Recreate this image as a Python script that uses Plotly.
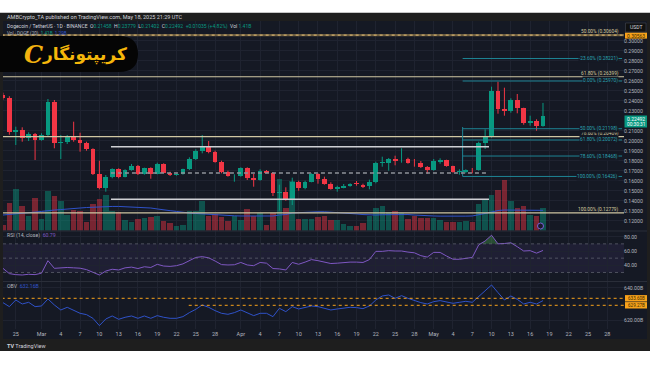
import plotly.graph_objects as go
import pandas as pd

W, H = 650, 365
def fx(x): return x / W
def fy(y): return 1 - y / H

# ---------------- data ----------------
start_date = "2025-02-23"
opens = [0.2457, 0.2424, 0.2090, 0.2107, 0.2024, 0.2064, 0.2007, 0.2057, 0.2390, 0.1980,
         0.1987, 0.2034, 0.2007, 0.1974, 0.1914, 0.1667, 0.1524, 0.1634, 0.1714, 0.1640,
         0.1707, 0.1747, 0.1667, 0.1724, 0.1667, 0.1767, 0.1680, 0.1657, 0.1664, 0.1714,
         0.1817, 0.1897, 0.1940, 0.1890, 0.1790, 0.1684, 0.1646, 0.1652, 0.1724, 0.1624,
         0.1607, 0.1700, 0.1680, 0.1474, 0.1484, 0.1414, 0.1590, 0.1524, 0.1590, 0.1664,
         0.1614, 0.1570, 0.1520, 0.1530, 0.1547, 0.1577, 0.1560, 0.1544, 0.1584, 0.1780,
         0.1774, 0.1817, 0.1807, 0.1814, 0.1790, 0.1780, 0.1737, 0.1707, 0.1790, 0.1807,
         0.1744, 0.1690, 0.1690, 0.1710, 0.1707, 0.1974, 0.2047, 0.2500, 0.2314, 0.2300,
         0.2407, 0.2324, 0.2180, 0.2200, 0.21458]
highs = [0.2480, 0.2445, 0.2140, 0.2134, 0.2084, 0.2077, 0.2074, 0.2417, 0.2407, 0.2057,
         0.2057, 0.2190, 0.2080, 0.1990, 0.1924, 0.1800, 0.1657, 0.1724, 0.1724, 0.1714,
         0.1767, 0.1757, 0.1730, 0.1734, 0.1780, 0.1774, 0.1690, 0.1674, 0.1720, 0.1834,
         0.1914, 0.2057, 0.1997, 0.1900, 0.1800, 0.1700, 0.1664, 0.1734, 0.1734, 0.1667,
         0.1714, 0.1707, 0.1687, 0.1560, 0.1534, 0.1630, 0.1600, 0.1600, 0.1674, 0.1674,
         0.1640, 0.1584, 0.1550, 0.1567, 0.1574, 0.1597, 0.1570, 0.1610, 0.1790, 0.1840,
         0.1827, 0.1850, 0.1924, 0.1830, 0.1817, 0.1797, 0.1747, 0.1817, 0.1824, 0.1810,
         0.1750, 0.1714, 0.1714, 0.1727, 0.1990, 0.2114, 0.2540, 0.2590, 0.2530, 0.2424,
         0.2467, 0.2330, 0.2250, 0.2214, 0.23779]
lows = [0.2410, 0.2060, 0.1957, 0.1990, 0.1997, 0.1807, 0.2000, 0.2047, 0.1924, 0.1817,
        0.1967, 0.1990, 0.1890, 0.1900, 0.1657, 0.1514, 0.1490, 0.1624, 0.1624, 0.1634,
        0.1700, 0.1657, 0.1660, 0.1620, 0.1664, 0.1674, 0.1647, 0.1650, 0.1660, 0.1707,
        0.1807, 0.1874, 0.1874, 0.1780, 0.1674, 0.1640, 0.1590, 0.1640, 0.1607, 0.1540,
        0.1600, 0.1674, 0.1447, 0.1300, 0.1400, 0.1357, 0.1500, 0.1514, 0.1584, 0.1570,
        0.1560, 0.1510, 0.1490, 0.1524, 0.1540, 0.1550, 0.1527, 0.1514, 0.1574, 0.1740,
        0.1700, 0.1754, 0.1780, 0.1770, 0.1740, 0.1727, 0.1670, 0.1700, 0.1770, 0.1740,
        0.1680, 0.1660, 0.1674, 0.1674, 0.1700, 0.1917, 0.2030, 0.2270, 0.2250, 0.2280,
        0.2274, 0.2160, 0.2150, 0.2100, 0.21402]
closes = [0.2424, 0.2090, 0.2107, 0.2024, 0.2064, 0.2007, 0.2057, 0.2390, 0.1980, 0.1987,
          0.2034, 0.2007, 0.1974, 0.1914, 0.1667, 0.1524, 0.1634, 0.1714, 0.1640, 0.1707,
          0.1747, 0.1667, 0.1724, 0.1667, 0.1767, 0.1680, 0.1657, 0.1664, 0.1714, 0.1817,
          0.1897, 0.1940, 0.1890, 0.1790, 0.1684, 0.1650, 0.1652, 0.1724, 0.1624, 0.1607,
          0.1700, 0.1680, 0.1474, 0.1484, 0.1414, 0.1590, 0.1524, 0.1590, 0.1664, 0.1614,
          0.1570, 0.1520, 0.1537, 0.1550, 0.1567, 0.1572, 0.1540, 0.1584, 0.1780, 0.1785,
          0.1817, 0.1800, 0.1812, 0.1780, 0.1785, 0.1737, 0.1707, 0.1797, 0.1807, 0.1744,
          0.1690, 0.1695, 0.1707, 0.1705, 0.1980, 0.2047, 0.2500, 0.2314, 0.2300, 0.2407,
          0.2324, 0.2180, 0.2200, 0.2146, 0.22492]
volume_b = [0.38, 1.73, 2.67, 1.60, 0.90, 2.11, 0.75, 2.50, 2.18, 1.92,
            1.00, 1.32, 1.28, 0.53, 1.71, 2.03, 2.30, 1.28, 1.17, 0.68,
            0.53, 0.75, 0.81, 0.85, 0.92, 0.64, 0.49, 0.28, 0.38, 1.28,
            1.22, 1.92, 0.96, 1.07, 0.85, 0.64, 0.92, 0.70, 1.39, 0.90,
            1.13, 0.38, 1.11, 3.31, 1.43, 3.14, 0.72, 0.75, 0.75, 0.85,
            0.90, 0.68, 0.70, 0.43, 0.32, 0.32, 0.47, 0.90, 1.45, 1.54,
            1.17, 1.24, 1.13, 0.75, 0.96, 0.81, 0.79, 0.79, 0.68, 0.53,
            0.53, 0.53, 0.64, 0.53, 1.71, 2.03, 2.30, 2.60, 3.24, 1.86,
            1.41, 1.60, 1.02, 0.90, 1.41]
volume_ma_b = [0.99, 1.02, 1.06, 1.09, 1.12, 1.18, 1.22, 1.28, 1.31, 1.34,
               1.36, 1.40, 1.44, 1.47, 1.50, 1.52, 1.54, 1.54, 1.54, 1.52,
               1.52, 1.50, 1.47, 1.44, 1.38, 1.31, 1.27, 1.22, 1.15, 1.12,
               1.09, 1.06, 1.04, 1.01, 0.99, 0.96, 0.94, 0.93, 0.93, 0.93,
               0.93, 0.93, 0.93, 0.99, 1.02, 1.12, 1.15, 1.18, 1.20, 1.20,
               1.20, 1.18, 1.15, 1.12, 1.09, 1.06, 1.02, 0.99, 0.99, 1.01,
               1.02, 1.04, 1.04, 1.02, 0.99, 0.96, 0.94, 0.93, 0.92, 0.91,
               0.91, 0.91, 0.92, 0.93, 0.99, 1.09, 1.18, 1.28, 1.31, 1.31,
               1.31, 1.31, 1.30, 1.29, 1.29]
rsi = [35.8, 28.4, 27.0, 26.5, 27.5, 27.0, 29.0, 46.5, 35.8, 36.5,
       37.0, 36.5, 36.0, 34.0, 30.0, 26.5, 32.0, 34.5, 33.5, 36.5,
       37.5, 35.5, 38.0, 37.0, 41.4, 39.0, 38.5, 39.5, 42.0, 47.0,
       51.0, 52.1, 50.5, 46.0, 41.0, 40.5, 40.8, 44.0, 40.5, 39.5,
       44.0, 43.0, 35.5, 35.0, 33.5, 44.0, 41.5, 44.5, 48.0, 46.5,
       44.0, 42.5, 43.0, 44.0, 44.5, 44.5, 44.0, 48.0, 59.5, 59.5,
       60.5, 60.0, 60.0, 58.5, 57.5, 53.5, 51.5, 58.1, 58.0, 53.0,
       48.5, 48.4, 50.0, 51.0, 68.5, 74.0, 82.0, 70.0, 70.5, 71.5,
       66.0, 60.0, 60.5, 57.0, 60.79]
obv_b = [630.92, 628.45, 632.57, 630.10, 631.13, 628.45, 628.86, 633.19, 629.48, 626.38,
         628.03, 625.97, 624.32, 623.50, 621.22, 616.69, 620.81, 622.67, 620.61, 621.85,
         622.67, 621.22, 622.67, 621.22, 622.88, 621.85, 621.22, 621.22, 622.26, 624.73,
         626.80, 629.48, 628.03, 625.97, 624.32, 623.70, 624.73, 626.38, 624.73, 622.88,
         624.32, 624.32, 622.26, 627.41, 625.35, 628.45, 627.00, 628.03, 628.86, 628.45,
         627.41, 626.38, 627.00, 627.62, 628.03, 627.83, 627.21, 628.86, 632.57, 635.05,
         635.67, 633.60, 635.25, 633.60, 632.16, 630.92, 630.10, 631.54, 632.16, 631.33,
         630.51, 631.13, 631.75, 631.13, 634.63, 638.14, 641.86, 637.11, 632.57, 635.05,
         632.98, 630.10, 631.13, 630.10, 632.16]

price_ticks = [0.12, 0.13, 0.14, 0.15, 0.16, 0.17, 0.18, 0.19, 0.20, 0.21,
               0.23, 0.24, 0.25, 0.26, 0.27, 0.28, 0.29, 0.30]
date_ticks = ["2025-02-25", "2025-03-01", "2025-03-04", "2025-03-07", "2025-03-10",
              "2025-03-13", "2025-03-16", "2025-03-19", "2025-03-22", "2025-03-25",
              "2025-03-28", "2025-04-01", "2025-04-04", "2025-04-07", "2025-04-10",
              "2025-04-13", "2025-04-16", "2025-04-19", "2025-04-22", "2025-04-25",
              "2025-04-28", "2025-05-01", "2025-05-04", "2025-05-07", "2025-05-10",
              "2025-05-13", "2025-05-16", "2025-05-19", "2025-05-22", "2025-05-25",
              "2025-05-28"]
date_labels = ["25", "Mar", "4", "7", "10", "13", "16", "19", "22", "25", "28",
               "Apr", "4", "7", "10", "13", "16", "19", "22", "25", "28",
               "May", "4", "7", "10", "13", "16", "19", "22", "25", "28"]
rsi_ticks = [40, 60, 80]
obv_ticks = [620, 640]

# fib levels (drawn objects)
fib_a_pct = ["50.00%", "61.80%", "78.60%", "100.00%"]
fib_a_val = [0.30604, 0.26399, 0.20409, 0.12779]
fib_b_pct = ["-23.60%", "0.00%", "50.00%", "61.80%", "78.60%", "100.00%"]
fib_b_val = [0.28221, 0.25970, 0.21198, 0.20072, 0.18468, 0.16426]
white_lines = [0.1940, 0.1414]
dashed_line = 0.1677
obv_alert_lines = [633.60, 629.27]

# ---------------- figure ----------------
dates = pd.date_range(start_date, periods=len(closes), freq="D")
base = pd.Timestamp("2025-02-25")
def dday(d):
    return base + pd.Timedelta(days=d)

GREEN = "#089981"
RED = "#f23645"
BG = "#151924"
GRID = "#1f2330"
TXT = "#b2b5be"
FONT = "Roboto"

up = [c >= o for o, c in zip(opens, closes)]
fig = go.Figure()

# volume (base axis y)
fig.add_trace(go.Bar(
    x=dates, y=volume_b, yaxis="y", xaxis="x",
    marker=dict(color=["rgba(8,153,129,0.45)" if u else "rgba(242,54,69,0.45)" for u in up],
                line=dict(width=0)),
    width=0.86 * 86400000, showlegend=False, hoverinfo="skip"))
fig.add_trace(go.Scatter(x=dates, y=volume_ma_b, yaxis="y", xaxis="x", mode="lines",
                         line=dict(color="#2f52c9", width=1), showlegend=False, hoverinfo="skip"))

# candles (price axis y2)
for flag, col in ((True, GREEN), (False, RED)):
    wx, wy = [], []
    bx, bb, bl = [], [], []
    for d, o, h, l, c, u in zip(dates, opens, highs, lows, closes, up):
        if u != flag:
            continue
        wx += [d, d, None]
        wy += [l, h, None]
        bx.append(d)
        bb.append(min(o, c))
        bl.append(max(abs(c - o), 0.0004))
    fig.add_trace(go.Scatter(x=wx, y=wy, yaxis="y2", xaxis="x", mode="lines",
                             line=dict(color=col, width=1), showlegend=False, hoverinfo="skip"))
    fig.add_trace(go.Bar(x=bx, y=bl, base=bb, yaxis="y2", xaxis="x",
                         marker=dict(color=col, line=dict(width=0)),
                         width=0.74 * 86400000, showlegend=False, hoverinfo="skip"))

# RSI
fig.add_trace(go.Scatter(x=dates, y=[70] * len(rsi), yaxis="y3", xaxis="x", mode="lines",
                         line=dict(width=0), showlegend=False, hoverinfo="skip"))
fig.add_trace(go.Scatter(x=dates, y=[max(v, 70) for v in rsi], yaxis="y3", xaxis="x",
                         mode="lines", line=dict(width=0), fill="tonexty",
                         fillcolor="rgba(76,175,80,0.35)", showlegend=False, hoverinfo="skip"))
fig.add_trace(go.Scatter(x=dates, y=rsi, yaxis="y3", xaxis="x", mode="lines",
                         line=dict(color="#7e57c2", width=1), showlegend=False, hoverinfo="skip"))

# OBV
fig.add_trace(go.Scatter(x=dates, y=obv_b, yaxis="y4", xaxis="x", mode="lines",
                         line=dict(color="#2f52c9", width=1), showlegend=False, hoverinfo="skip"))

shapes = []
# frame and panel backgrounds
shapes.append(dict(type="rect", xref="paper", yref="paper", x0=0, x1=1, y0=fy(351), y1=fy(12.7),
                   fillcolor="#1e1e1e", line=dict(width=0), layer="below"))
shapes.append(dict(type="rect", xref="paper", yref="paper", x0=fx(3), x1=fx(647), y0=fy(339), y1=fy(21),
                   fillcolor=BG, line=dict(width=0), layer="below"))
for ys in (231, 281.5):
    shapes.append(dict(type="line", xref="paper", yref="paper", x0=fx(3), x1=fx(647), y0=fy(ys), y1=fy(ys),
                       line=dict(color="#2a2e39", width=1)))

# RSI band
shapes.append(dict(type="rect", xref="paper", yref="y3", x0=fx(3), x1=fx(624), y0=30, y1=70,
                   fillcolor="rgba(126,87,194,0.10)", line=dict(width=0), layer="below"))
for lv in (70, 50, 30):
    shapes.append(dict(type="line", xref="paper", yref="y3", x0=fx(3), x1=fx(624), y0=lv, y1=lv,
                       line=dict(color="rgba(120,123,134,0.55)", width=1, dash="dot")))

# fib set A (beige, full width)
x_left = dday(-2.2)
x_right = dday(94.6)
for i, v in enumerate(fib_a_val):
    if i == 0:
        shapes.append(dict(type="line", xref="x", yref="y2", x0=x_left, x1=x_right, y0=v - 0.0005, y1=v - 0.0005,
                           line=dict(color="#6b5d40", width=2.2)))
        shapes.append(dict(type="line", xref="x", yref="y2", x0=x_left, x1=x_right, y0=v - 0.0005, y1=v - 0.0005,
                           line=dict(color="#d0ad6c", width=1.2, dash="dot")))
    else:
        shapes.append(dict(type="line", xref="x", yref="y2", x0=x_left, x1=x_right, y0=v, y1=v,
                           line=dict(color="#cfc6a2", width=1.1)))

# fib set B (teal, from anchor to right)
fib_b_start = dday(69.5)
for v in fib_b_val:
    shapes.append(dict(type="line", xref="x", yref="y2", x0=fib_b_start, x1=dday(94.3), y0=v, y1=v,
                       line=dict(color="#1e8494", width=1)))
shapes.append(dict(type="line", xref="x", yref="y2", x0=fib_b_start, x1=fib_b_start,
                   y0=fib_b_val[-1], y1=0.2137, line=dict(color="#1e8494", width=1)))

# user drawn lines
for v in white_lines:
    shapes.append(dict(type="line", xref="x", yref="y2", x0=dday(14.8), x1=dday(73.6), y0=v, y1=v,
                       line=dict(color="#cfd0d4", width=1.4)))
shapes.append(dict(type="line", xref="x", yref="y2", x0=dday(14.8), x1=dday(73.6), y0=dashed_line, y1=dashed_line,
                   line=dict(color="#8f9299", width=1.6, dash="4px,3px")))

# OBV alert lines
shapes.append(dict(type="line", xref="x", yref="y4", x0=dday(-2.2), x1=x_right,
                   y0=obv_alert_lines[0], y1=obv_alert_lines[0], line=dict(color="#f7a21b", width=1, dash="dot")))
shapes.append(dict(type="line", xref="x", yref="y4", x0=dday(26.9), x1=x_right,
                   y0=obv_alert_lines[1], y1=obv_alert_lines[1], line=dict(color="#f7a21b", width=1, dash="dot")))

# axis label boxes
shapes.append(dict(type="rect", xref="paper", yref="paper", x0=fx(624.5), x1=fx(647), y0=fy(127.5), y1=fy(115.5),
                   fillcolor=GREEN, line=dict(width=0)))
shapes.append(dict(type="rect", xref="paper", yref="paper", x0=fx(625), x1=fx(647), y0=fy(38.6), y1=fy(32.6),
                   fillcolor="#f7a21b", line=dict(width=0)))
shapes.append(dict(type="rect", xref="paper", yref="paper", x0=fx(625.5), x1=fx(646), y0=fy(32), y1=fy(23),
                   fillcolor="#111", line=dict(color="#434651", width=0.6)))
for yb in (298.3, 305.3):
    shapes.append(dict(type="rect", xref="paper", yref="paper", x0=fx(625), x1=fx(647), y0=fy(yb + 3.2), y1=fy(yb - 3.2),
                       fillcolor="#f7a21b", line=dict(width=0)))
# alert icon
shapes.append(dict(type="circle", xref="paper", yref="paper", x0=fx(537.5), x1=fx(543.5), y0=fy(229), y1=fy(223),
                   fillcolor="#1b1b2b", line=dict(color="#7b5fd6", width=1)))

# logo block
def P(x, y):
    return f"{fx(x):.5f},{fy(y):.5f}"
logo_path = ("M " + P(0, 36) + " L " + P(119, 36) + " Q " + P(138, 36) + " " + P(138, 54) +
             " Q " + P(138, 72) + " " + P(119, 72) + " L " + P(0, 72) + " Z")
shapes.append(dict(type="path", xref="paper", yref="paper", path=logo_path,
                   fillcolor="#050505", line=dict(width=0)))

ann = []
def A(x, y, text, size=5.5, color=TXT, xanchor="left", yanchor="middle", bg=None, family=FONT):
    d = dict(x=fx(x), y=fy(y), xref="paper", yref="paper", text=text, showarrow=False,
             xanchor=xanchor, yanchor=yanchor, font=dict(size=size, color=color, family=family))
    if bg:
        d["bgcolor"] = bg
        d["borderpad"] = 0
    ann.append(d)

A(5, 17.5, "AMBCrypto_TA published on TradingView.com, May 18, 2025 21:29 UTC", 5.5, "#d1d4dc")
g = GREEN
A(5, 26.5, "Dogecoin / TetherUS · 1D · BINANCE  "
  f"O<span style='color:{g}'>0.21458</span>  H<span style='color:{g}'>0.23779</span>  "
  f"L<span style='color:{g}'>0.21402</span>  C<span style='color:{g}'>0.22492</span>  "
  f"<span style='color:{g}'>+0.01035 (+4.82%)</span>  Vol <span style='color:{g}'>1.41B</span>",
  5, "#d1d4dc")
A(5, 33.5, f"Vol · DOGE (20)  <span style='color:{g}'>1.41B</span>  <span style='color:#2f52c9'>1.29B</span>",
  4.6, "#b2b5be")

# logo
A(33, 55, "<b><i>C</i></b>", 24, "#f3b20f", "center", family="DejaVu Serif")
A(84, 54, "<b>کریپتونگار</b>", 17, "#f5b70a", "center", family="DejaVu Sans")

# fib labels
for p, v in zip(fib_a_pct, fib_a_val):
    A(621, 340.7 - 1000 * v - 3.6, f"{p} ({v:.5f})", 4.8, "#d6cb9f", "right")
for p, v in zip(fib_b_pct, fib_b_val):
    A(619, 340.7 - 1000 * v, f"{p} ({v:.5f})", 4.8, "#2aa3b3", "right", bg=BG)

# axis boxes text
A(636, 118.8, "0.22492", 5.0, "#ffffff", "center")
A(636, 124.5, "00:30:31", 4.8, "#ffffff", "center")
A(636, 35.6, "0.30563", 5.0, "#3a2a00", "center")
A(636, 27.5, "USDT", 5.0, "#d1d4dc", "center")
A(636, 298.3, f"{obv_alert_lines[0]:.2f}B", 4.6, "#3a2a00", "center")
A(636, 305.3, f"{obv_alert_lines[1]:.2f}B", 4.6, "#3a2a00", "center")

# pane titles
A(5, 235.5, "RSI (14, close)  <span style='color:#7e57c2'>60.79</span>", 5.2, TXT)
A(5, 285.5, f"OBV  <span style='color:#2f52c9'>{obv_b[-1]:.2f}B</span>", 5.2, TXT)

# footer
A(5, 345.5, "<b>TV</b> TradingView", 5.5, "#d1d4dc")

yax_common = dict(side="right", anchor="x", ticks="", ticklen=0, ticklabelstandoff=-1,
                  showgrid=True, gridcolor=GRID, zeroline=False, showline=False,
                  tickfont=dict(size=5.2, color=TXT), tickmode="array")

fig.update_layout(
    width=W, height=H, margin=dict(l=0, r=0, t=0, b=0), autosize=False,
    paper_bgcolor="#ffffff", plot_bgcolor=BG, barmode="overlay", bargap=0,
    showlegend=False, shapes=shapes, annotations=ann, hovermode=False,
    font=dict(family=FONT, color=TXT, size=5.5),
    xaxis=dict(domain=[fx(3), fx(624)], range=[dday(-1.99), dday(94.6)], anchor="y4",
               tickmode="array", tickvals=date_ticks, ticktext=date_labels,
               tickfont=dict(size=5.5, color=TXT), ticks="", ticklen=0, showgrid=True, gridcolor=GRID,
               gridwidth=1, zeroline=False, showline=False, fixedrange=True),
    yaxis=dict(domain=[fy(230.5), fy(21)], range=[0, 13.41], visible=False, fixedrange=True),
    yaxis2=dict(overlaying="y", range=[0.1102, 0.3197],
                tickvals=price_ticks, ticktext=[f"{v:.5f}" for v in price_ticks], **yax_common),
    yaxis3=dict(domain=[fy(281), fy(231)], range=[18.1, 87.95],
                tickvals=rsi_ticks, ticktext=[f"{v:.2f}" for v in rsi_ticks], **yax_common),
    yaxis4=dict(domain=[fy(329), fy(282)], range=[614.6, 643.7],
                tickvals=obv_ticks, ticktext=[f"{v:.2f}B" for v in obv_ticks], **yax_common),
)

fig.write_html("out.html", config={"displayModeBar": False, "staticPlot": True},
               post_script="document.body.style.margin='0';document.body.style.overflow='hidden';")
